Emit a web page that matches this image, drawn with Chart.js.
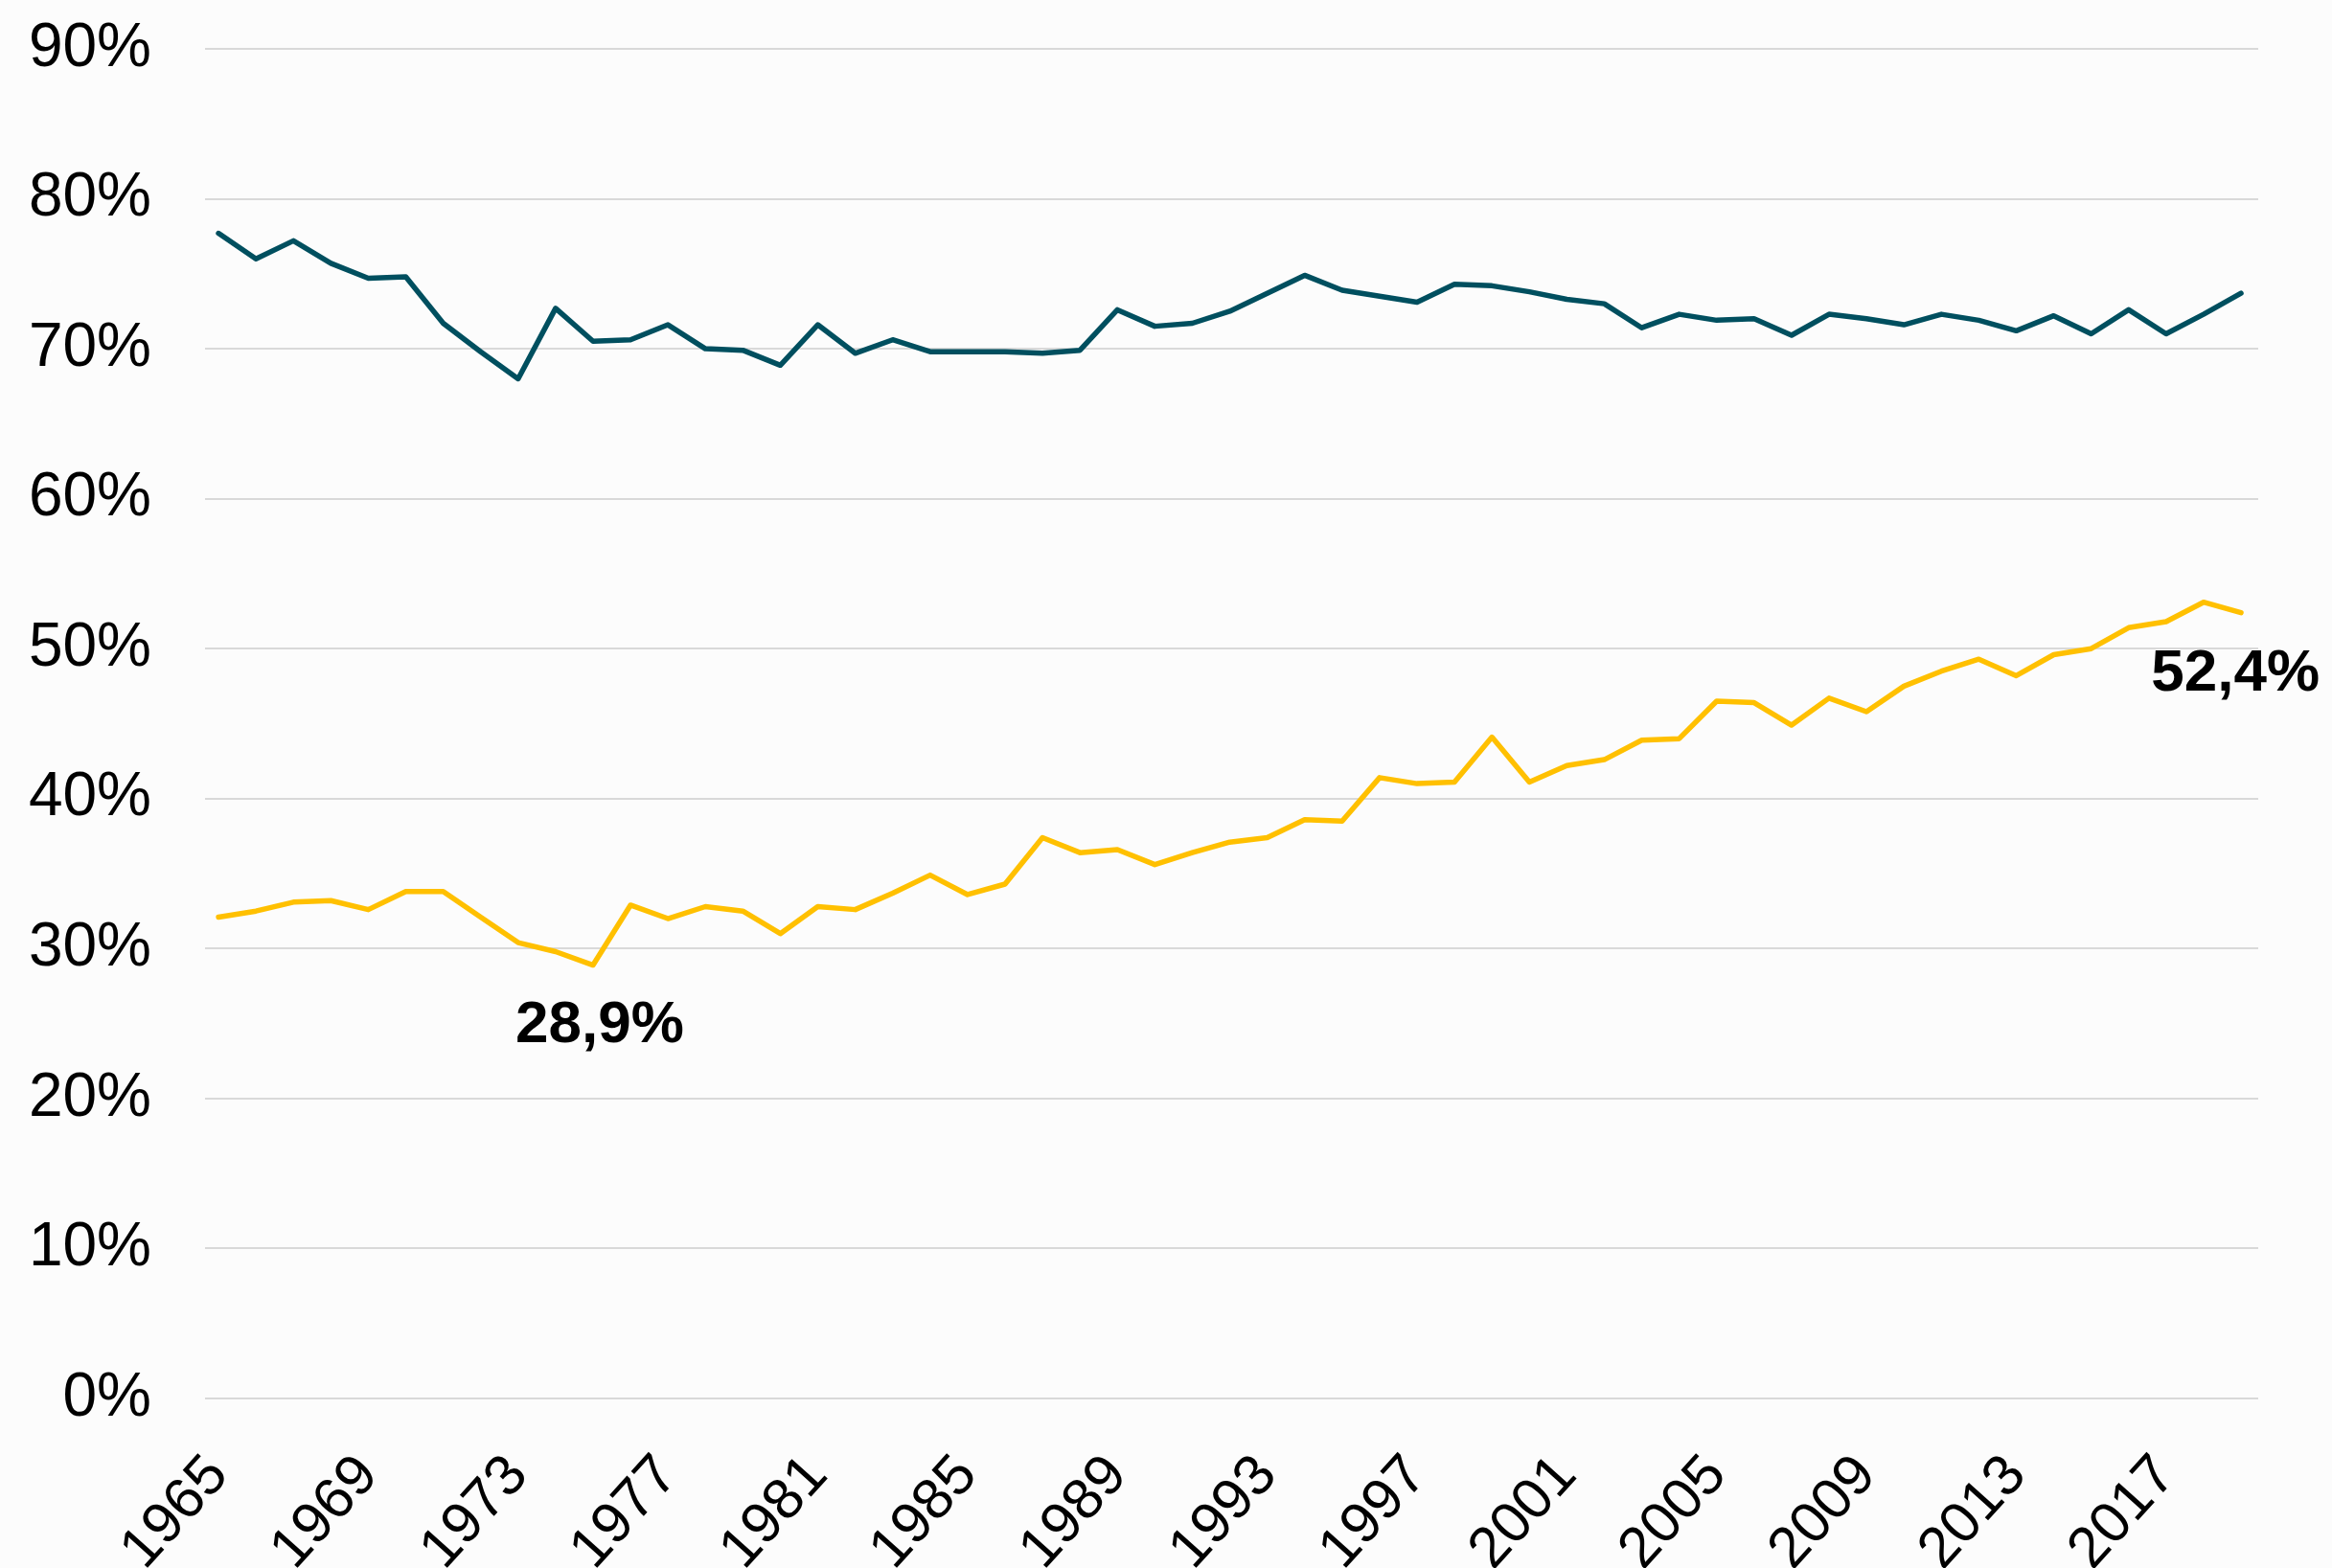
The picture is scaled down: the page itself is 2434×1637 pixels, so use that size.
<!DOCTYPE html>
<html>
<head>
<meta charset="utf-8">
<script src="https://cdn.jsdelivr.net/npm/chart.js@4"></script>
<style>
html,body{margin:0;padding:0;background:#fcfcfc;}
#wrap{width:2434px;height:1637px;position:relative;}
</style>
</head>
<body>
<div id="wrap"><canvas id="c" width="2434" height="1637"></canvas></div>
<script>
const years = [];
for (let y = 1965; y <= 2019; y++) years.push(y);

const seriesDark = [77.7,76.0,77.2,75.7,74.7,74.8,71.7,69.8,68.0,72.7,70.5,70.6,71.6,70.0,69.9,68.9,
  71.6,69.7,70.6,69.8,69.8,69.8,69.7,69.9,72.6,71.5,71.7,72.5,73.7,74.9,73.9,73.5,73.1,74.3,74.2,73.8,
  73.3,73.0,71.4,72.3,71.9,72.0,70.9,72.3,72.0,71.6,72.3,71.9,71.2,72.2,71.0,72.6,71.0,72.3,73.7];
const seriesYellow = [32.1,32.5,33.1,33.2,32.6,33.8,33.8,32.1,30.4,29.8,28.9,32.9,32.0,32.8,32.5,31.0,
  32.8,32.6,33.7,34.9,33.6,34.3,37.4,36.4,36.6,35.6,36.4,37.1,37.4,38.6,38.5,41.4,41.0,41.1,44.1,41.1,
  42.2,42.6,43.9,44.0,46.5,46.4,44.9,46.7,45.8,47.5,48.5,49.3,48.2,49.6,50.0,51.4,51.8,53.1,52.4];
const xTickYears = [1965,1969,1973,1977,1981,1985,1989,1993,1997,2001,2005,2009,2013,2017];
const yTickValues = [0,10,20,30,40,50,60,70,80,90];
const callouts = [
  {year: 1975, value: 28.9, text: '28,9%'},
  {year: 2019, value: 52.4, text: '52,4%'}
];

const toPoints = arr => arr.map((v, i) => ({x: years[i], y: v}));

const calloutPlugin = {
  id: 'callouts',
  afterDatasetsDraw(chart) {
    const {ctx, scales} = chart;
    ctx.save();
    ctx.font = 'bold 62px "Liberation Sans", Arial, sans-serif';
    ctx.fillStyle = '#000';
    ctx.textBaseline = 'alphabetic';
    const a = callouts[0];
    ctx.textAlign = 'center';
    ctx.fillText(a.text, scales.x.getPixelForValue(a.year) + 7, scales.y.getPixelForValue(a.value) + 80);
    const b = callouts[1];
    ctx.textAlign = 'right';
    ctx.fillText(b.text, scales.x.getPixelForValue(b.year) + 82, scales.y.getPixelForValue(b.value) + 81);
    ctx.restore();
  }
};

const bgPlugin = {
  id: 'bg',
  beforeDraw(chart) {
    const {ctx, width, height} = chart;
    ctx.save();
    ctx.fillStyle = '#fcfcfc';
    ctx.fillRect(0, 0, width, height);
    ctx.restore();
  }
};

new Chart(document.getElementById('c'), {
  type: 'line',
  data: {
    datasets: [
      {data: toPoints(seriesDark), borderColor: '#004F5F', borderWidth: 5.5, pointRadius: 0, tension: 0, fill: false, borderCapStyle: 'round', borderJoinStyle: 'round'},
      {data: toPoints(seriesYellow), borderColor: '#FFC000', borderWidth: 5.5, pointRadius: 0, tension: 0, fill: false, borderCapStyle: 'round', borderJoinStyle: 'round'}
    ]
  },
  options: {
    responsive: false,
    animation: false,
    devicePixelRatio: 1,
    layout: {padding: {top: 51, right: 77, left: 0, bottom: 0}},
    plugins: {legend: {display: false}, tooltip: {enabled: false}},
    scales: {
      x: {
        type: 'linear',
        min: 1964.64,
        max: 2019.46,
        afterBuildTicks(scale) { scale.ticks = xTickYears.map(v => ({value: v})); },
        afterFit(scale) { scale.height = 177; scale.paddingLeft = 0; scale.paddingRight = 0; },
        grid: {display: false, drawTicks: false},
        border: {display: false},
        ticks: {
          autoSkip: false,
          maxRotation: 48,
          minRotation: 48,
          padding: 46,
          color: '#000',
          font: {family: '"Liberation Sans", Arial, sans-serif', size: 60},
          callback: v => String(v)
        }
      },
      y: {
        min: 0,
        max: 90,
        afterBuildTicks(scale) { scale.ticks = yTickValues.map(v => ({value: v})); },
        afterFit(scale) { scale.width = 214; scale.paddingTop = 0; scale.paddingBottom = 0; },
        grid: {color: '#d9d9d9', lineWidth: 2, drawTicks: false},
        border: {display: false},
        ticks: {
          padding: 56,
          color: '#000',
          font: {family: '"Liberation Sans", Arial, sans-serif', size: 64},
          callback: v => v + '%'
        }
      }
    }
  },
  plugins: [bgPlugin, calloutPlugin]
});
</script>
</body>
</html>
